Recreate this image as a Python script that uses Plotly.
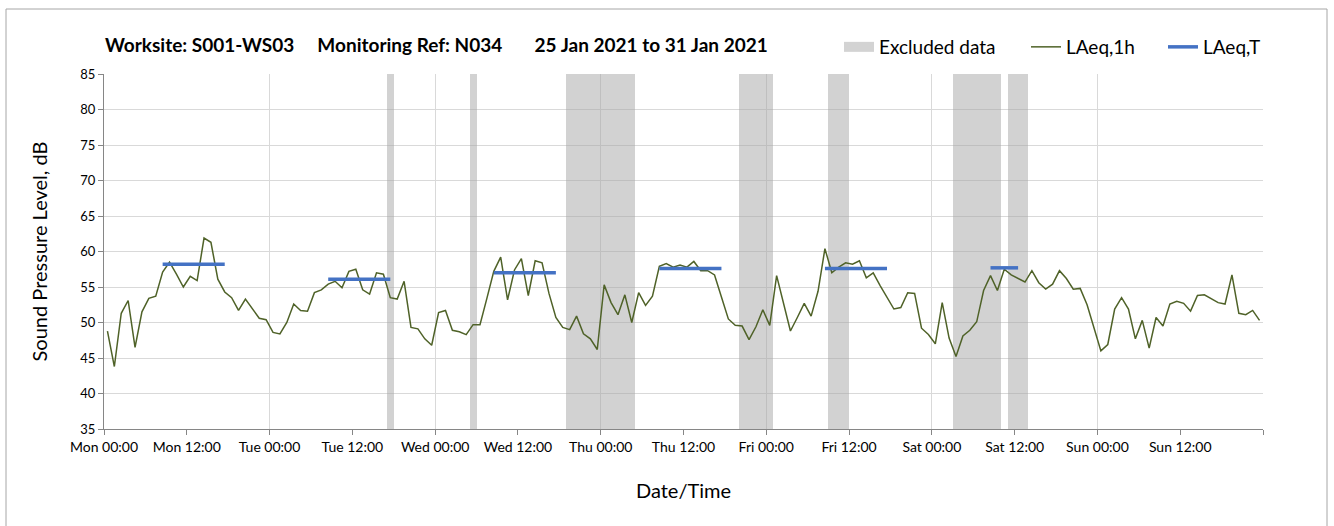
import pandas as pd
import plotly.graph_objects as go

# LAeq,1h, one value per hour from Mon 25 Jan 2021 00:00 to Sun 31 Jan 2021 23:00
laeq_1h = [
    48.8, 43.8, 51.3, 53.1, 46.5, 51.5, 53.4, 53.7, 57.1, 58.5, 56.8, 55.0,
    56.5, 55.9, 61.9, 61.3, 56.1, 54.3, 53.5, 51.7, 53.3, 51.9, 50.6, 50.4,
    48.6, 48.4, 50.0, 52.6, 51.7, 51.6, 54.2, 54.6, 55.4, 55.8, 54.9, 57.2,
    57.5, 54.6, 54.0, 57.0, 56.8, 53.5, 53.3, 55.8, 49.3, 49.1, 47.7, 46.8,
    51.4, 51.7, 48.9, 48.7, 48.3, 49.7, 49.7, 53.4, 57.2, 59.2, 53.2, 57.4,
    59.0, 53.8, 58.7, 58.4, 54.1, 50.7, 49.3, 49.0, 50.9, 48.4, 47.7, 46.2,
    55.3, 52.8, 51.1, 53.9, 50.0, 54.2, 52.4, 53.7, 57.9, 58.3, 57.8, 58.1,
    57.8, 58.6, 57.3, 57.3, 56.7, 53.6, 50.5, 49.6, 49.5, 47.6, 49.4, 51.8,
    49.6, 56.6, 52.7, 48.8, 50.7, 52.7, 50.9, 54.4, 60.4, 57.0, 57.8, 58.4,
    58.2, 58.7, 56.3, 57.0, 55.2, 53.6, 51.9, 52.1, 54.2, 54.1, 49.2, 48.3,
    47.0, 52.8, 47.8, 45.2, 48.1, 48.9, 50.1, 54.5, 56.6, 54.5, 57.5, 56.7,
    56.2, 55.7, 57.3, 55.6, 54.7, 55.4, 57.3, 56.2, 54.7, 54.8, 52.5, 49.3,
    46.0, 46.9, 51.9, 53.5, 51.9, 47.7, 50.3, 46.4, 50.7, 49.5, 52.6, 53.0,
    52.7, 51.6, 53.8, 53.9, 53.4, 52.8, 52.6, 56.7, 51.3, 51.1, 51.7, 50.3,
]

# periods excluded from the assessment
excluded_start = ['2021-01-26 17:00', '2021-01-27 05:00', '2021-01-27 19:00',
                  '2021-01-28 20:00', '2021-01-29 09:00', '2021-01-30 03:00',
                  '2021-01-30 11:00']
excluded_end = ['2021-01-26 18:00', '2021-01-27 06:00', '2021-01-28 05:00',
                '2021-01-29 01:00', '2021-01-29 12:00', '2021-01-30 10:00',
                '2021-01-30 14:00']

# LAeq,T over each working period
leq_t_start = ['2021-01-25 08:30', '2021-01-26 08:30', '2021-01-27 08:30',
               '2021-01-28 08:30', '2021-01-29 08:30', '2021-01-30 08:30']
leq_t_end = ['2021-01-25 17:30', '2021-01-26 17:30', '2021-01-27 17:30',
             '2021-01-28 17:30', '2021-01-29 17:30', '2021-01-30 12:30']
leq_t_values = [58.2, 56.1, 57.0, 57.6, 57.6, 57.7]

period_start = pd.Timestamp('2021-01-25 00:00')
period_end = pd.Timestamp('2021-02-01 00:00')
Y_MIN, Y_MAX = 35, 85

FONT = 'Lato'
W, H = 1334, 526
M_L, M_R, M_T, M_B = 104, 71, 74, 97
EXCL_COLOUR = 'rgba(165,165,165,0.5)'

# hourly values are plotted at the middle of each hour
hour_mid = pd.date_range(period_start + pd.Timedelta(minutes=30),
                         periods=len(laeq_1h), freq='h')

ex_s = pd.to_datetime(excluded_start)
ex_e = pd.to_datetime(excluded_end)
ex_centre = ex_s + (ex_e - ex_s) / 2
ex_width = [(e - s).total_seconds() * 1000 for s, e in zip(ex_s, ex_e)]

leq_x, leq_y = [], []
for s, e, v in zip(leq_t_start, leq_t_end, leq_t_values):
    leq_x += [s, e, None]
    leq_y += [v, v, None]

tick_times = pd.date_range(period_start, period_end, freq='12h')
tick_text = [t.strftime('%a %H:%M') for t in tick_times[:-1]] + ['']
day_times = pd.date_range(period_start, period_end, freq='D')

fig = go.Figure()

fig.add_trace(go.Bar(
    x=ex_centre, y=[Y_MAX - Y_MIN] * len(ex_centre), base=Y_MIN,
    width=ex_width,
    marker=dict(color=EXCL_COLOUR, line=dict(width=0)),
    name='Excluded data', showlegend=False, legendgroup='excl',
    hoverinfo='skip'
))

# legend entry only: wide grey swatch like the original
fig.add_trace(go.Scatter(
    x=[None], y=[None], mode='lines',
    line=dict(color='#d3d3d3', width=11),
    name='Excluded data', legendgroup='excl', legendwidth=142
))

fig.add_trace(go.Scatter(
    x=hour_mid, y=laeq_1h, mode='lines',
    line=dict(color='#4F6228', width=1.5),
    name='LAeq,1h', legendwidth=92
))

fig.add_trace(go.Scatter(
    x=leq_x, y=leq_y, mode='lines',
    line=dict(color='#4472C4', width=3.5),
    name='LAeq,T', connectgaps=False
))

# empty trace so the day gridline axis gets drawn
fig.add_trace(go.Scatter(x=[], y=[], xaxis='x2', showlegend=False, hoverinfo='skip'))

title_text = ('<b>Worksite: S001-WS03' + '\u00a0' * 5 + 'Monitoring Ref: N034'
              + '\u00a0' * 7 + '25 Jan 2021 to 31 Jan 2021</b>')

plot_w = W - M_L - M_R
plot_h = H - M_T - M_B

fig.update_layout(
    width=W, height=H,
    margin=dict(l=M_L, r=M_R, t=M_T, b=M_B),
    paper_bgcolor='white',
    plot_bgcolor='white',
    font=dict(family=FONT, color='#000000'),
    title=dict(text=title_text, x=105 / W, xref='container', xanchor='left',
               y=1 - 45 / H, yref='container', yanchor='middle',
               font=dict(size=19, family=FONT, color='#000000')),
    bargap=0,
    showlegend=True,
    legend=dict(orientation='h', x=(839 - M_L) / plot_w, xanchor='left',
                y=(H - M_B - 47) / plot_h, yanchor='middle',
                font=dict(size=19, family=FONT), bgcolor='rgba(0,0,0,0)',
                traceorder='normal'),
    xaxis=dict(
        type='date', range=[period_start, period_end],
        tickmode='array', tickvals=tick_times, ticktext=tick_text,
        showgrid=False, zeroline=False,
        showline=True, linecolor='#868686', linewidth=1,
        ticks='outside', ticklen=5, tickcolor='#868686',
        tickfont=dict(size=14, family=FONT, color='#000000'),
        title=dict(text='Date/Time', font=dict(size=20, family=FONT), standoff=30),
        automargin=False,
    ),
    xaxis2=dict(
        type='date', range=[period_start, period_end], overlaying='x', anchor='y',
        tickmode='array', tickvals=day_times, showticklabels=False, ticks='',
        showgrid=True, gridcolor='#d9d9d9', gridwidth=1,
        showline=False, zeroline=False,
    ),
    yaxis=dict(
        range=[Y_MIN, Y_MAX], dtick=5, tick0=Y_MIN,
        showgrid=True, gridcolor='#d9d9d9', gridwidth=1, zeroline=False,
        showline=True, linecolor='#868686', linewidth=1,
        ticks='outside', ticklen=5, tickcolor='#868686',
        tickfont=dict(size=13, family=FONT, color='#000000'),
        title=dict(text='Sound Pressure Level, dB', font=dict(size=20, family=FONT),
                   standoff=27),
        automargin=False,
    ),
    shapes=[dict(
        type='rect', xref='paper', yref='paper', layer='below',
        x0=(6 - M_L) / plot_w, x1=(1327 - M_L) / plot_w,
        y0=-(M_B + 10) / plot_h, y1=(H - M_B - 9) / plot_h,
        line=dict(color='#a6a6a6', width=1), fillcolor='rgba(0,0,0,0)',
    )],
)

# figure is exactly the window size, so drop the default page margin
fig.write_html('out.html', config={'displayModeBar': False},
               post_script="document.body.style.margin='0';")
